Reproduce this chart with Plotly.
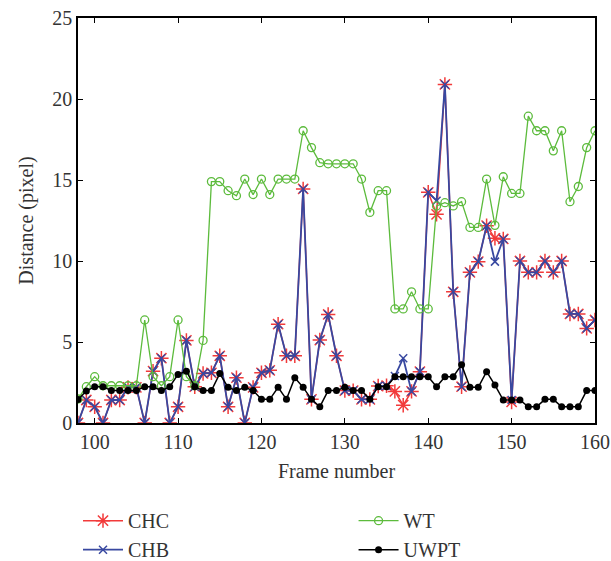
import plotly.graph_objects as go

frames = list(range(98, 161))

chc = [0, 1.42, 1.0, 0, 1.42, 1.42, 2.2, 2.2, 0, 3.2,
       4.0, 0, 1.0, 5.1, 2.24, 3.06, 3.1, 4.15, 1.0, 2.8,
       0, 2.2, 3.1, 3.25, 6.1, 4.15, 4.15, 14.45, 1.46, 5.12,
       6.7, 4.15, 2.0, 2.0, 1.46, 1.46, 2.28, 2.3, 1.95, 1.1,
       1.95, 3.17, 14.24, 12.88, 20.9, 8.1, 2.24, 9.3, 9.96, 12.18,
       11.4, 11.36, 1.3, 10.0, 9.3, 9.3, 10.0, 9.3, 10.0, 6.73,
       6.73, 5.84, 6.36]

chb = [0, 1.42, 1.0, 0, 1.42, 1.42, 2.2, 2.2, 0, 3.2,
       4.0, 0, 1.0, 5.1, 2.24, 3.06, 3.1, 4.15, 1.0, 2.8,
       0, 2.2, 3.1, 3.25, 6.1, 4.15, 4.15, 14.45, 1.46, 5.12,
       6.7, 4.15, 2.0, 2.0, 1.46, 1.46, 2.28, 2.3, 2.9, 4.0,
       1.95, 3.17, 14.24, 13.72, 20.9, 8.1, 2.24, 9.3, 9.96, 12.18,
       9.96, 11.36, 1.42, 10.0, 9.3, 9.3, 10.0, 9.3, 10.0, 6.73,
       6.73, 5.84, 6.36]

wt = [1.48, 2.24, 2.86, 2.3, 2.3, 2.3, 2.3, 2.3, 6.36, 2.86,
      2.3, 2.86, 6.36, 2.86, 2.3, 5.1, 14.9, 14.9, 14.34, 14.03,
      15.06, 14.1, 15.06, 14.1, 15.06, 15.06, 15.06, 18.04, 17.0, 16.07,
      16.0, 16.0, 16.0, 16.0, 15.06, 13.0, 14.34, 14.34, 7.04, 7.04,
      8.1, 7.04, 7.04, 13.4, 13.6, 13.4, 13.66, 12.07, 12.07, 15.06,
      12.2, 15.2, 14.17, 14.17, 18.94, 18.04, 18.04, 16.8, 18.04, 13.66,
      14.6, 17.0, 18.04]

uwpt = [1.45, 1.97, 2.24, 2.24, 2.0, 2.0, 2.0, 2.0, 2.24, 2.24,
        2.0, 2.24, 3.0, 3.2, 2.24, 2.0, 2.0, 3.05, 2.2, 2.0,
        2.2, 2.0, 1.46, 1.46, 2.2, 1.46, 2.8, 2.2, 1.46, 1.0,
        2.0, 2.0, 2.2, 2.0, 2.0, 1.46, 2.24, 2.24, 2.86, 2.86,
        2.86, 2.86, 2.86, 2.24, 2.86, 2.86, 3.6, 2.2, 2.2, 3.17,
        2.34, 1.42, 1.42, 1.42, 1.0, 1.0, 1.46, 1.46, 1.0, 1.0,
        1.0, 2.0, 2.0]

x_ticks = [100, 110, 120, 130, 140, 150, 160]
y_ticks = [0, 5, 10, 15, 20, 25]

FONT = "Liberation Serif"
TXT = "#333333"

fig = go.Figure()
fig.add_trace(go.Scatter(x=frames, y=chc, name="CHC", mode="lines+markers",
                         line=dict(color="#f23a3a", width=1.5),
                         marker=dict(symbol="asterisk-open", size=12,
                                     line=dict(color="#f23a3a", width=1.5)),
                         legend="legend"))
fig.add_trace(go.Scatter(x=frames, y=chb, name="CHB", mode="lines+markers",
                         line=dict(color="#3848a0", width=1.8),
                         marker=dict(symbol="x-thin-open", size=8,
                                     line=dict(color="#3848a0", width=1.5)),
                         legend="legend"))
fig.add_trace(go.Scatter(x=frames, y=wt, name="WT", mode="lines+markers",
                         line=dict(color="#5cbb3c", width=1.3),
                         marker=dict(symbol="circle-open", size=8,
                                     line=dict(color="#5cbb3c", width=1.3)),
                         legend="legend2"))
fig.add_trace(go.Scatter(x=frames, y=uwpt, name="UWPT", mode="lines+markers",
                         line=dict(color="#000000", width=1.5),
                         marker=dict(symbol="circle", size=7, color="#000000"),
                         legend="legend2"))

axis_common = dict(showline=True, linecolor="#000000", linewidth=1.5,
                   mirror="allticks", ticks="inside", ticklen=5, tickcolor="#000000",
                   showgrid=False, zeroline=False,
                   tickfont=dict(family=FONT, size=20, color=TXT))

fig.update_xaxes(range=[98, 160], tickvals=x_ticks,
                 title=dict(text="Frame number", font=dict(family=FONT, size=20, color=TXT),
                            standoff=12),
                 **axis_common)
fig.update_yaxes(range=[0, 25], tickvals=y_ticks,
                 title=dict(text="Distance (pixel)", font=dict(family=FONT, size=20, color=TXT),
                            standoff=13),
                 **axis_common)

leg_common = dict(font=dict(family=FONT, size=20, color=TXT), bgcolor="rgba(0,0,0,0)",
                  tracegroupgap=0, itemwidth=40, xanchor="left", yanchor="top",
                  orientation="v")
fig.update_layout(
    width=611, height=561,
    margin=dict(l=78, r=16, t=18, b=138, autoexpand=False),
    plot_bgcolor="white", paper_bgcolor="white",
    legend=dict(x=0.0, y=-0.193, **leg_common),
    legend2=dict(x=0.533, y=-0.193, **leg_common),
)

fig.write_html("out.html")
